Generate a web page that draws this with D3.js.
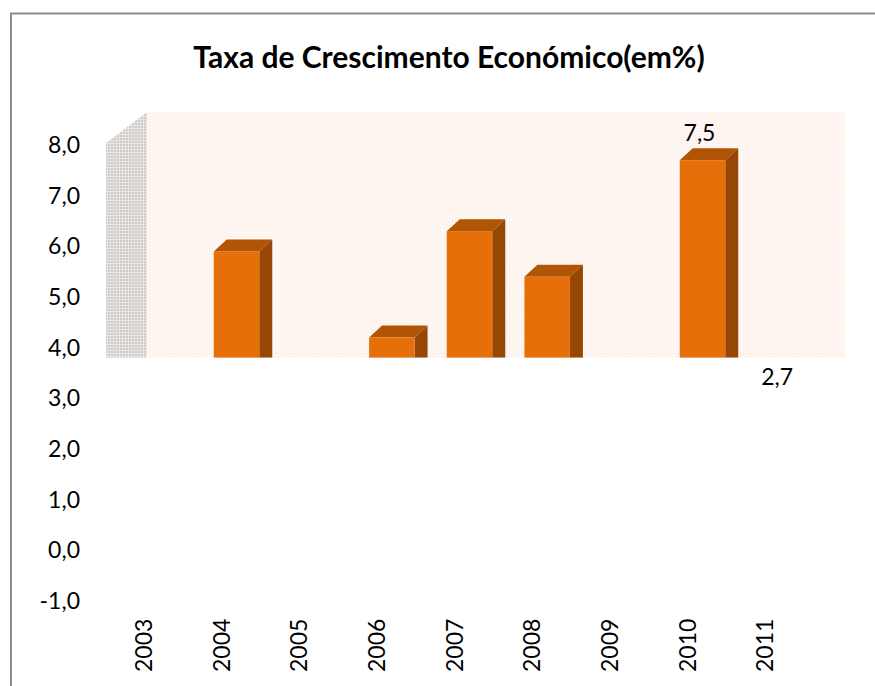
<!DOCTYPE html>
<html>
<head>
<meta charset="utf-8">
<script src="https://cdn.jsdelivr.net/npm/d3@7"></script>
<style>
  html, body { margin: 0; padding: 0; background: #fff; }
  svg { display: block; }
  text { font-family: Lato, "Open Sans", sans-serif; fill: #000; }
</style>
</head>
<body>
<div id="chart"></div>
<script>
var chartTitle = "Taxa de Crescimento Económico(em%)";
var years = ["2003", "2004", "2005", "2006", "2007", "2008", "2009", "2010", "2011"];
// bar heights as drawn, null where nothing shows above the cut floor
var barValues = [null, 5.9, null, 4.2, 6.3, 5.4, null, 7.7, null];
var labelYears = ["2010", "2011"];
var labelValues = [7.5, 2.7];
var yTicks = [-1, 0, 1, 2, 3, 4, 5, 6, 7, 8];
var floorValue = 3.8;

var width = 875, height = 686;
var svg = d3.select("#chart").append("svg").attr("width", width).attr("height", height);
var defs = svg.append("defs");

var y = d3.scaleLinear().domain([-1, 8]).range([601, 145]);
var x = d3.scaleBand().domain(years).range([104, 803]);

var depthX = 13, depthY = 12;   // bar depth
var wallDepthX = 41, wallDepthY = 31;
var barWidth = 45.5, barOffset = 16;

function format(v) {
    return v.toFixed(1).replace(".", ",");
}

function dither(id, base, dot) {
    var p = defs.append("pattern").attr("id", id)
        .attr("width", 3).attr("height", 3)
        .attr("patternUnits", "userSpaceOnUse");
    p.append("rect").attr("width", 3).attr("height", 3).attr("fill", base);
    p.append("rect").attr("width", 2).attr("height", 2).attr("fill", dot);
}
dither("backWall", "#fdf3ec", "#fff9f5");
dither("sideWall", "#e9e6e3", "#cdcac7");

defs.append("clipPath").attr("id", "floorClip")
    .append("rect").attr("x", 0).attr("y", 0).attr("width", width).attr("height", y(floorValue));

// chart frame, runs off the right and bottom of the crop
svg.append("path")
    .attr("d", "M11,686V13.5H875")
    .attr("fill", "none").attr("stroke", "#8c8c8c").attr("stroke-width", 2);

svg.append("text")
    .attr("x", 449).attr("y", 68)
    .attr("text-anchor", "middle")
    .attr("font-size", 30).attr("font-weight", 700)
    .text(chartTitle);

// walls
var wallLeft = x.range()[0] + 2;
var wallTop = y(8) - 2;
var wallBottom = y(floorValue);
var wallBack = wallLeft + wallDepthX;

svg.append("rect")
    .attr("x", wallBack).attr("y", wallTop - wallDepthY)
    .attr("width", 845 - wallBack).attr("height", wallBottom - wallTop + wallDepthY)
    .attr("fill", "url(#backWall)");

svg.append("path")
    .attr("d", d3.line()([
        [wallLeft, wallTop], [wallBack, wallTop - wallDepthY],
        [wallBack, wallBottom], [wallLeft, wallBottom]
    ]) + "Z")
    .attr("fill", "url(#sideWall)");

// bars
var barData = years.map(function (d, i) {
    return {year: d, value: barValues[i]};
}).filter(function (d) {
    return d.value !== null;
});

var bars = svg.append("g").attr("clip-path", "url(#floorClip)")
    .selectAll("g").data(barData).join("g");

function barLeft(d) {
    return x(d.year) + x.bandwidth() / 2 + barOffset - barWidth / 2;
}

bars.append("path")
    .attr("fill", "#b05405")
    .attr("d", function (d) {
        var l = barLeft(d), t = y(d.value);
        return d3.line()([
            [l, t], [l + depthX, t - depthY],
            [l + barWidth + depthX, t - depthY], [l + barWidth, t]
        ]) + "Z";
    });

bars.append("path")
    .attr("fill", "#964705")
    .attr("d", function (d) {
        var l = barLeft(d) + barWidth, t = y(d.value);
        return d3.line()([
            [l, t], [l + depthX, t - depthY],
            [l + depthX, y(floorValue)], [l, y(floorValue)]
        ]) + "Z";
    });

bars.append("rect")
    .attr("fill", "#e76f0a")
    .attr("x", barLeft)
    .attr("y", function (d) { return y(d.value); })
    .attr("width", barWidth)
    .attr("height", function (d) { return y(floorValue) - y(d.value); });

// data labels
svg.append("g").selectAll("text")
    .data(labelYears.map(function (d, i) { return {year: d, value: labelValues[i]}; }))
    .join("text")
    .attr("x", function (d) { return x(d.year) + x.bandwidth() / 2 + 13; })
    .attr("y", function (d) { return y(d.value) - 37; })
    .attr("dy", "0.35em")
    .attr("text-anchor", "middle")
    .attr("font-size", 23)
    .text(function (d) { return format(d.value); });

// axes
var yAxis = svg.append("g")
    .attr("transform", "translate(80,0)")
    .call(d3.axisLeft(y).tickValues(yTicks).tickFormat(format).tickSize(0).tickPadding(0));
yAxis.select(".domain").remove();
yAxis.attr("font-family", null);
yAxis.selectAll("text").attr("font-size", 23);

var xAxis = svg.append("g")
    .attr("transform", "translate(1,672)")
    .call(d3.axisBottom(x).tickSize(0));
xAxis.select(".domain").remove();
xAxis.attr("font-family", null);
xAxis.selectAll("text")
    .attr("font-size", 23)
    .attr("transform", "rotate(-90)")
    .attr("x", 0).attr("y", 0).attr("dy", "0.35em")
    .attr("text-anchor", "start");
</script>
</body>
</html>
